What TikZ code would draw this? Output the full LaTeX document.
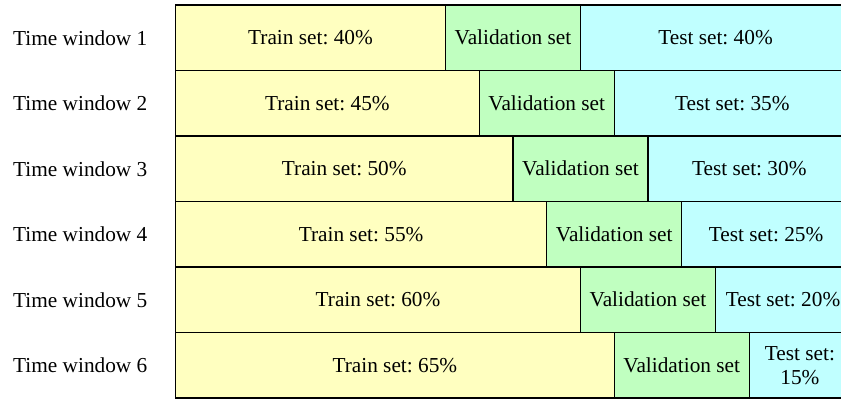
\documentclass[tikz,border=0pt]{standalone}
\usepackage{fontspec}
\setmainfont{Liberation Serif}
\definecolor{trainfill}{RGB}{255,255,192}
\definecolor{valfill}{RGB}{192,255,192}
\definecolor{testfill}{RGB}{192,255,255}
\frenchspacing
\begin{document}
\begin{tikzpicture}[x=1pt,y=-1pt,
  font=\fontsize{21.3}{24}\selectfont,
  cell/.style={draw=black, line width=1.2pt, anchor=north west, inner sep=0pt,
    outer sep=0pt, minimum height=65.5pt, align=center},
  traincell/.style={cell, fill=trainfill},
  valcell/.style={cell, fill=valfill, minimum width=135pt},
  testcell/.style={cell, fill=testfill},
  rowlabel/.style={anchor=west, inner sep=0pt}]
\useasboundingbox (0,0) rectangle (841,399);
\clip (0,0) rectangle (841,399);
\foreach \i/\tr/\te in {1/40/40,2/45/35,3/50/30,4/55/25,5/60/20,6/65/15}{
  \pgfmathsetmacro{\ytop}{5+(\i-1)*65.5}
  \pgfmathsetmacro{\ymid}{\ytop+32.75}
  \pgfmathsetmacro{\wtr}{\tr*6.75}
  \pgfmathsetmacro{\wte}{\te*6.75}
  \node[rowlabel] (tw\i) at (13,\ymid) {Time window \i};
  \node[traincell, minimum width=\wtr pt] (tr\i) at (175.5,\ytop) {Train set: \tr\%};
  \node[valcell] (va\i) at (tr\i.north east) {Validation set};
  \ifnum\i=6
    \node[testcell, minimum width=\wte pt] (te\i) at (va\i.north east) {Test set:\\\te\%};
  \else
    \node[testcell, minimum width=\wte pt] (te\i) at (va\i.north east) {Test set: \te\%};
  \fi
}
\end{tikzpicture}
\end{document}
